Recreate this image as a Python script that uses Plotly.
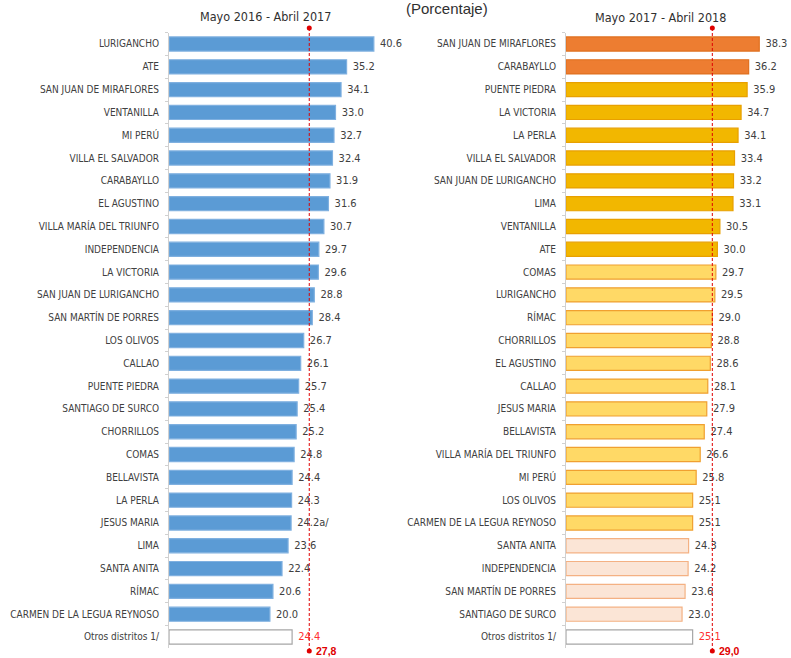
import plotly.graph_objects as go

# ---------------- data ----------------
left_districts = [
    "LURIGANCHO", "ATE", "SAN JUAN DE MIRAFLORES", "VENTANILLA", "MI PERÚ",
    "VILLA EL SALVADOR", "CARABAYLLO", "EL AGUSTINO", "VILLA MARÍA DEL TRIUNFO",
    "INDEPENDENCIA", "LA VICTORIA", "SAN JUAN DE LURIGANCHO", "SAN MARTÍN DE PORRES",
    "LOS OLIVOS", "CALLAO", "PUENTE PIEDRA", "SANTIAGO DE SURCO", "CHORRILLOS",
    "COMAS", "BELLAVISTA", "LA PERLA", "JESUS MARIA", "LIMA", "SANTA ANITA",
    "RÍMAC", "CARMEN DE LA LEGUA REYNOSO", "Otros distritos 1/",
]
left_values = [
    40.6, 35.2, 34.1, 33.0, 32.7, 32.4, 31.9, 31.6, 30.7, 29.7, 29.6, 28.8, 28.4,
    26.7, 26.1, 25.7, 25.4, 25.2, 24.8, 24.4, 24.3, 24.2, 23.6, 22.4, 20.6, 20.0,
    24.4,
]
left_notes = {"JESUS MARIA": "a/"}
left_average = 27.8
left_average_label = "27,8"
left_title = "Mayo 2016 - Abril 2017"

right_districts = [
    "SAN JUAN DE MIRAFLORES", "CARABAYLLO", "PUENTE PIEDRA", "LA VICTORIA",
    "LA PERLA", "VILLA EL SALVADOR", "SAN JUAN DE LURIGANCHO", "LIMA",
    "VENTANILLA", "ATE", "COMAS", "LURIGANCHO", "RÍMAC", "CHORRILLOS",
    "EL AGUSTINO", "CALLAO", "JESUS MARIA", "BELLAVISTA", "VILLA MARÍA DEL TRIUNFO",
    "MI PERÚ", "LOS OLIVOS", "CARMEN DE LA LEGUA REYNOSO", "SANTA ANITA",
    "INDEPENDENCIA", "SAN MARTÍN DE PORRES", "SANTIAGO DE SURCO", "Otros distritos 1/",
]
right_values = [
    38.3, 36.2, 35.9, 34.7, 34.1, 33.4, 33.2, 33.1, 30.5, 30.0, 29.7, 29.5, 29.0,
    28.8, 28.6, 28.1, 27.9, 27.4, 26.6, 25.8, 25.1, 25.1, 24.3, 24.2, 23.6, 23.0,
    25.1,
]
right_average = 29.0
right_average_label = "29,0"
right_title = "Mayo 2017 - Abril 2018"
unit_title = "(Porcentaje)"
OTROS = "Otros distritos 1/"

# ---------------- styling ----------------
W, H = 791, 658
LABEL_FONT = "Liberation Sans Narrow, DejaVu Sans Condensed, Arial Narrow, sans-serif"
TXT = "#404040"
RED = "#E00000"
X_RANGE = [0, 44]
NB = "\u00a0"

row_h = (637 - 44) / 26
y_top_px = 44 - row_h / 2
y_bot_px = 637 + row_h / 2
y_dom = [1 - y_bot_px / H, 1 - y_top_px / H]

left_dom = [169 / W, (169 + 222) / W]
right_dom = [566 / W, (566 + 222) / W]


def right_style(v):
    if v >= 36:
        return "#ED7D31", "#E0701F"
    if v >= 30:
        return "#F2B700", "#E8A000"
    if v >= 25:
        return "#FFD966", "#F0A030"
    return "#FBE5D6", "#F4B183"


def bar_styles(names, values, kind):
    fills, lines, tcol = [], [], []
    for n, v in zip(names, values):
        if n == OTROS:
            fills.append("white"); lines.append("#A6A6A6"); tcol.append("#FF3030")
        elif kind == "left":
            fills.append("#5B9BD5"); lines.append("#7FB0E0"); tcol.append(TXT)
        else:
            f, l = right_style(v)
            fills.append(f); lines.append(l); tcol.append(TXT)
    return fills, lines, tcol


fig = go.Figure()

lf, ll, lt = bar_styles(left_districts, left_values, "left")
left_text = [NB + f"{v:.1f}" + left_notes.get(n, "") for n, v in zip(left_districts, left_values)]
fig.add_trace(go.Bar(
    x=left_values, y=left_districts, orientation="h", xaxis="x", yaxis="y",
    marker=dict(color=lf, line=dict(color=ll, width=1.2)),
    width=0.62, text=left_text, textposition="outside", cliponaxis=False,
    textfont=dict(family=LABEL_FONT, size=11, color=lt),
    hoverinfo="x+y", showlegend=False,
))

rf, rl, rt = bar_styles(right_districts, right_values, "right")
right_text = [NB + f"{v:.1f}" for v in right_values]
fig.add_trace(go.Bar(
    x=right_values, y=right_districts, orientation="h", xaxis="x2", yaxis="y2",
    marker=dict(color=rf, line=dict(color=rl, width=1.2)),
    width=0.62, text=right_text, textposition="outside", cliponaxis=False,
    textfont=dict(family=LABEL_FONT, size=11, color=rt),
    hoverinfo="x+y", showlegend=False,
))

yaxis_common = dict(
    type="category", autorange="reversed", showgrid=False, zeroline=False,
    showline=True, linecolor="#D0D0D0", linewidth=1,
    ticks="outside", tickson="boundaries", ticklen=3, tickcolor="#D0D0D0",
    tickfont=dict(family=LABEL_FONT, size=10, color=TXT),
    ticklabelstandoff=7, domain=y_dom,
)
xaxis_common = dict(range=X_RANGE, visible=False, fixedrange=True)

fig.update_layout(
    width=W, height=H, margin=dict(l=0, r=0, t=0, b=0),
    paper_bgcolor="white", plot_bgcolor="white",
    xaxis=dict(domain=left_dom, anchor="y", **xaxis_common),
    yaxis=dict(anchor="x", **yaxis_common),
    xaxis2=dict(domain=right_dom, anchor="y2", **xaxis_common),
    yaxis2=dict(anchor="x2", **yaxis_common),
    font=dict(family=LABEL_FONT, color=TXT),
)

for xref, avg, lab in (("x", left_average, left_average_label),
                       ("x2", right_average, right_average_label)):
    top_y = 1 - 28 / H
    bot_y = 1 - 651 / H
    fig.add_shape(type="line", xref=xref, yref="paper", x0=avg, x1=avg,
                  y0=bot_y, y1=top_y, line=dict(color=RED, width=1, dash="3px,2px"))
    for yy in (top_y, bot_y):
        fig.add_shape(type="circle", xref=xref, yref="paper",
                      xsizemode="pixel", ysizemode="pixel",
                      xanchor=avg, yanchor=yy, x0=-2.5, x1=2.5, y0=-2.5, y1=2.5,
                      fillcolor=RED, line=dict(color=RED, width=0))
    fig.add_annotation(x=avg, xref=xref, y=bot_y, yref="paper", text=f"<b>{lab}</b>",
                       showarrow=False, xanchor="left", yanchor="middle", xshift=5,
                       font=dict(family="Liberation Sans, Arial, sans-serif", size=10.5, color=RED))

fig.add_annotation(x=265 / W, y=1 - 16 / H, xref="paper", yref="paper", text=left_title,
                   showarrow=False, xanchor="center", yanchor="middle",
                   font=dict(family=LABEL_FONT, size=12.5, color="#303030"))
fig.add_annotation(x=660 / W, y=1 - 18 / H, xref="paper", yref="paper", text=right_title,
                   showarrow=False, xanchor="center", yanchor="middle",
                   font=dict(family=LABEL_FONT, size=12.5, color="#303030"))
fig.add_annotation(x=447 / W, y=1 - 8 / H, xref="paper", yref="paper", text=unit_title,
                   showarrow=False, xanchor="center", yanchor="middle",
                   font=dict(family="Liberation Sans, Arial, sans-serif", size=15, color="#303030"))

fig.write_html("out.html", config={"displayModeBar": False},
               post_script="document.body.style.margin='0';document.body.style.overflow='hidden';")
